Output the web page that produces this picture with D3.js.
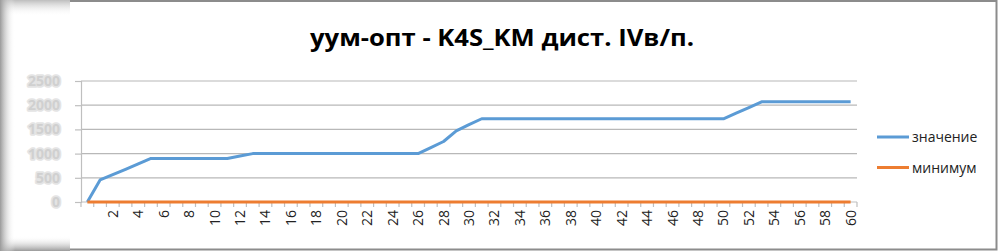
<!DOCTYPE html>
<html>
<head>
<meta charset="utf-8">
<script src="https://cdn.jsdelivr.net/npm/d3@7"></script>
<style>
  body { margin: 0; background: #fff; }
  svg { display: block; font-family: "Open Sans", sans-serif; }
</style>
</head>
<body>
<svg id="svg" width="998" height="251"></svg>
<script>
const title = 'уум-опт - K4S_KM дист. IVв/п.';
const seriesNames = ['значение', 'минимум'];

const categories = [0, 1, 2, 3, 4, 5, 6, 7, 8, 9, 10, 11, 12, 13, 14, 15, 16, 17, 18, 19, 20,
  21, 22, 23, 24, 25, 26, 27, 28, 29, 30, 31, 32, 33, 34, 35, 36, 37, 38, 39, 40,
  41, 42, 43, 44, 45, 46, 47, 48, 49, 50, 51, 52, 53, 54, 55, 56, 57, 58, 59, 60];

const tickLabels = [2, 4, 6, 8, 10, 12, 14, 16, 18, 20, 22, 24, 26, 28, 30,
  32, 34, 36, 38, 40, 42, 44, 46, 48, 50, 52, 54, 56, 58, 60];

const yTicks = [0, 500, 1000, 1500, 2000, 2500];

const valueSeries = [0, 455, 565, 675, 790, 900, 900, 900, 900, 900, 900, 900, 950,
  1000, 1000, 1000, 1000, 1000, 1000, 1000, 1000, 1000, 1000, 1000, 1000, 1000, 1000,
  1125, 1250, 1470, 1600,
  1720, 1720, 1720, 1720, 1720, 1720, 1720, 1720, 1720, 1720,
  1720, 1720, 1720, 1720, 1720, 1720, 1720, 1720, 1720, 1720,
  1835, 1950, 2070, 2070, 2070, 2070, 2070, 2070, 2070, 2070];

const minSeries = [0, 0, 0, 0, 0, 0, 0, 0, 0, 0, 0, 0, 0, 0, 0, 0, 0, 0, 0, 0, 0,
  0, 0, 0, 0, 0, 0, 0, 0, 0, 0, 0, 0, 0, 0, 0, 0, 0, 0, 0, 0,
  0, 0, 0, 0, 0, 0, 0, 0, 0, 0, 0, 0, 0, 0, 0, 0, 0, 0, 0, 0];

const colors = ['#5b9bd5', '#ed7d31'];

const svg = d3.select('#svg');
const defs = svg.append('defs');

// frame shadows on the left strip
const gl = defs.append('linearGradient').attr('id', 'shL');
gl.append('stop').attr('offset', 0).attr('stop-color', '#9a9a9a');
gl.append('stop').attr('offset', 1).attr('stop-color', '#fff').attr('stop-opacity', 0);
const gt = defs.append('linearGradient').attr('id', 'shT').attr('x2', 0).attr('y2', 1);
gt.append('stop').attr('offset', 0).attr('stop-color', '#bdbdbd');
gt.append('stop').attr('offset', 1).attr('stop-color', '#fff').attr('stop-opacity', 0);
const gb = defs.append('linearGradient').attr('id', 'shB').attr('x2', 0).attr('y2', 1);
gb.append('stop').attr('offset', 0).attr('stop-color', '#fff').attr('stop-opacity', 0);
gb.append('stop').attr('offset', 1).attr('stop-color', '#9a9a9a');

svg.append('rect').attr('x', 0).attr('y', 0).attr('width', 70).attr('height', 16).attr('fill', 'url(#shT)');
svg.append('rect').attr('x', 0).attr('y', 236).attr('width', 70).attr('height', 15).attr('fill', 'url(#shB)');
svg.append('rect').attr('x', 0).attr('y', 0).attr('width', 15).attr('height', 251).attr('fill', 'url(#shL)');

// border of the chart area
svg.append('path')
  .attr('d', 'M70,1H996.5V249.5H70')
  .attr('fill', 'none').attr('stroke', '#8c8c8c').attr('stroke-width', 2);

const x = d3.scaleBand().domain(categories).range([81, 857]);
const y = d3.scaleLinear().domain([0, 2500]).range([202, 81]);
const cx = d => x(d) + x.bandwidth() / 2;

svg.append('text')
  .attr('x', 502).attr('y', 46)
  .attr('text-anchor', 'middle')
  .attr('font-size', 24).attr('font-weight', 'bold')
  .attr('textLength', 384).attr('lengthAdjust', 'spacingAndGlyphs')
  .attr('fill', '#000')
  .text(title);

// gridlines
svg.append('g').selectAll('line').data(yTicks.slice(1)).join('line')
  .attr('x1', 81).attr('x2', 857)
  .attr('y1', d => y(d)).attr('y2', d => y(d))
  .attr('stroke', '#b8b8b8').attr('stroke-width', 1.2);

// y axis (labels look smeared in the source picture, fake it with a soft stroke)
const yAxis = svg.append('g')
  .attr('transform', 'translate(81,0)')
  .call(d3.axisLeft(y).tickValues(yTicks).tickFormat(d3.format('d')).tickSize(6).tickPadding(15));
yAxis.select('.domain').attr('stroke', '#bfbfbf').attr('stroke-width', 1.2);
yAxis.selectAll('.tick line').attr('stroke', '#bfbfbf').attr('stroke-width', 1.2);
yAxis.selectAll('.tick text')
  .attr('font-size', 14).attr('font-family', 'Open Sans').attr('font-weight', 'bold')
  .attr('fill', '#d0d0d0')
  .attr('stroke', '#e4e4e4').attr('stroke-width', 3.5).attr('stroke-linejoin', 'round')
  .attr('paint-order', 'stroke');

// x axis: tick marks between categories, labels at even categories
const xg = svg.append('g');
xg.append('line').attr('x1', 81).attr('x2', 857).attr('y1', 202).attr('y2', 202)
  .attr('stroke', '#bfbfbf').attr('stroke-width', 1.2);
xg.selectAll('line.tk').data(categories.concat(['end'])).join('line')
  .attr('class', 'tk')
  .attr('x1', d => d === 'end' ? 857 : x(d)).attr('x2', d => d === 'end' ? 857 : x(d))
  .attr('y1', 202).attr('y2', 207)
  .attr('stroke', '#bfbfbf').attr('stroke-width', 1.2);
xg.selectAll('text').data(tickLabels).join('text')
  .attr('transform', d => `translate(${cx(d) + 5},210) rotate(-90)`)
  .attr('text-anchor', 'end')
  .attr('font-size', 14).attr('fill', '#222')
  .text(d => d);

const line = d3.line().x((d, i) => cx(categories[i])).y(d => y(d));

[valueSeries, minSeries].forEach((s, i) => {
  svg.append('path')
    .datum(s)
    .attr('d', line)
    .attr('fill', 'none')
    .attr('stroke', colors[i])
    .attr('stroke-width', 3)
    .attr('stroke-linejoin', 'round');
});

// legend
const lg = svg.append('g').selectAll('g').data(seriesNames).join('g')
  .attr('transform', (d, i) => `translate(877,${137 + i * 30.5})`);
lg.append('line').attr('x1', 0).attr('x2', 32).attr('y1', 0).attr('y2', 0)
  .attr('stroke', (d, i) => colors[i]).attr('stroke-width', 3);
lg.append('text').attr('x', 35).attr('y', 5)
  .attr('font-size', 14).attr('fill', '#222')
  .text(d => d);
</script>
</body>
</html>
